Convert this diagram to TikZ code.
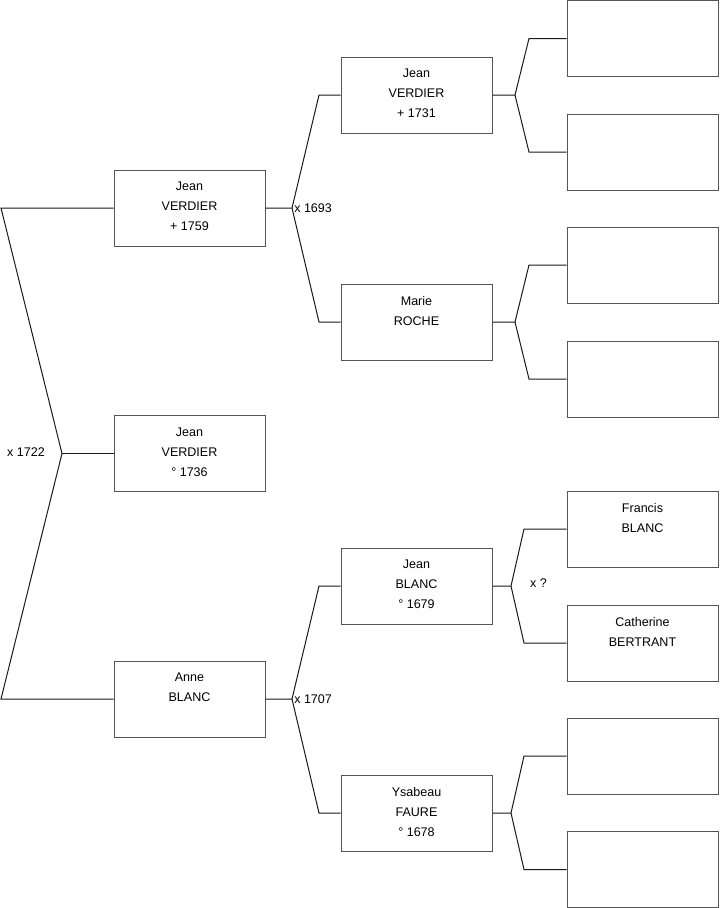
\documentclass[tikz,border=0pt]{standalone}
\usepackage{fontspec}
\setmainfont{Liberation Sans}
\usetikzlibrary{positioning}
\definecolor{treegray}{HTML}{555555}

\begin{document}
\begin{tikzpicture}[x=0.75pt,y=-0.75pt,
  pbox/.style={draw=treegray, line width=0.75pt, minimum width=113.25pt,
    minimum height=57pt, inner sep=0pt},
  ptxt/.style={anchor=north, align=center, inner sep=0pt,
    font=\fontsize{9.4}{15}\selectfont},
  link/.style={draw=black!90, line width=0.75pt},
  lbl/.style={font=\fontsize{9.4}{15}\selectfont, inner sep=0pt},
]
\useasboundingbox (0,0) rectangle (719,908);
% --- generation 1 ---
\node[pbox] (p1) at (189.5,208) {};
\node[pbox] (p2) at (189.5,453.5) {};
\node[pbox] (p3) at (189.5,699) {};
\node[ptxt] (p1t) at ([yshift=-9.25pt]p1.north) {Jean\\VERDIER\\+ 1759};
\node[ptxt] (p2t) at ([yshift=-9.25pt]p2.north) {Jean\\VERDIER\\° 1736};
\node[ptxt] (p3t) at ([yshift=-9.25pt]p3.north) {Anne\\BLANC};
% --- generation 2 ---
\node[pbox] (f1) at (416.5,95) {};
\node[pbox] (m1) at (416.5,322) {};
\node[pbox] (f2) at (416.5,586) {};
\node[pbox] (m2) at (416.5,813) {};
\node[ptxt] (f1t) at ([yshift=-9.25pt]f1.north) {Jean\\VERDIER\\+ 1731};
\node[ptxt] (m1t) at ([yshift=-9.25pt]m1.north) {Marie\\ROCHE};
\node[ptxt] (f2t) at ([yshift=-9.25pt]f2.north) {Jean\\BLANC\\° 1679};
\node[ptxt] (m2t) at ([yshift=-9.25pt]m2.north) {Ysabeau\\FAURE\\° 1678};
% --- generation 3 ---
\foreach \n/\y in {g1/38.5,g2/152,g3/265,g4/379,g5/529,g6/643,g7/756,g8/869.5}
  \node[pbox] (\n) at (642.5,\y) {};
\node[ptxt] (g5t) at ([yshift=-9.25pt]g5.north) {Francis\\BLANC};
\node[ptxt] (g6t) at ([yshift=-9.25pt]g6.north) {Catherine\\BERTRANT};
% --- couple p1 x p3 ---
\coordinate (j0) at (62,0 |- p2.west);
\coordinate (j0a) at (1,0 |- p1.west);
\coordinate (j0b) at (1,0 |- p3.west);
\draw[link] (p1.west) -- (j0a) -- (j0) -- (j0b) -- (p3.west);
\draw[link] (j0) -- (p2.west);
\node[lbl] (c0) at (26,452) {x 1722};
% --- parents of p1 and p3 ---
\foreach \c/\a/\b in {p1/f1/m1,p3/f2/m2} {
  \coordinate (\c-j) at (292,0 |- \c.east);
  \draw[link] (\c.east) -- (\c-j) -- (319,0 |- \a.west) -- (\a.west);
  \draw[link] (\c-j) -- (319,0 |- \b.west) -- (\b.west);
}
\node[lbl, anchor=west] (c1) at ([xshift=1.5pt]p1-j) {x 1693};
\node[lbl, anchor=west] (c2) at ([xshift=1.5pt]p3-j) {x 1707};
% --- grandparents ---
\foreach \c/\a/\b/\x/\e in {f1/g1/g2/515/529,m1/g3/g4/515/529,
                            f2/g5/g6/511/524,m2/g7/g8/511/524} {
  \coordinate (\c-j) at (\x,0 |- \c.east);
  \draw[link] (\c.east) -- (\c-j) -- (\e,0 |- \a.west) -- (\a.west);
  \draw[link] (\c-j) -- (\e,0 |- \b.west) -- (\b.west);
}
\node[lbl] (c3) at (538.5,583) {x ?};
\end{tikzpicture}
\end{document}
